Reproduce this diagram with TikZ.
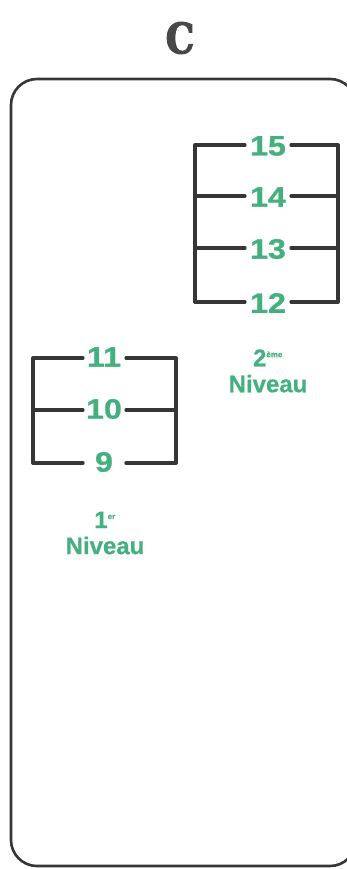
\documentclass[tikz,border=0pt]{standalone}
\usepackage{fontspec}
\newfontfamily\numfont[FakeStretch=1.15,FakeBold=1]{Liberation Sans Bold}
\newfontfamily\labfont[FakeBold=0.6]{Liberation Sans Bold}
\newfontfamily\titlefont[FakeBold=3,FakeStretch=0.85]{DejaVu Serif Bold}
\definecolor{lvlgreen}{HTML}{45B07F}
\definecolor{inkgrey}{HTML}{363636}
\definecolor{titlegrey}{HTML}{484848}
\tikzset{
  num/.style={text=lvlgreen, font=\numfont\fontsize{28}{28}\selectfont, inner sep=0pt, anchor=center},
  lab/.style={text=lvlgreen, font=\labfont\fontsize{24}{26}\selectfont, inner sep=0pt, align=center},
  rung/.style={draw=inkgrey, line width=3.3pt, line cap=round, line join=round},
  frame/.style={draw=inkgrey, line width=2.6pt, rounded corners=26pt}
}
\begin{document}
\begin{tikzpicture}[x=1pt,y=-1pt]
\useasboundingbox (0,0) rectangle (347,869);
% title
\node[text=titlegrey, font=\titlefont\fontsize{42}{42}\selectfont, inner sep=0pt] (title) at (180,38) {C};
% outer frame
\begin{scope}
\clip (0,0) rectangle (347,869);
\draw[frame] (11,79) rectangle (356,866);
\end{scope}
% right ladder (2eme niveau)
\foreach \n/\y in {15/145,14/196,13/248,12/302}{
  \node[num] (n\n) at (268,\y+1) {\n};
  \coordinate (rl\n) at (195,\y);
  \coordinate (rr\n) at (338,\y);
  \coordinate (ga\n) at (245,\y);
  \coordinate (gb\n) at (291,\y);
  \draw[rung] (rl\n) -- (ga\n);
  \draw[rung] (gb\n) -- (rr\n);
}
\draw[rung] (rl15) -- (rl12);
\draw[rung] (rr15) -- (rr12);
% left ladder (1er niveau)
\foreach \n/\y in {11/358,10/410,9/463}{
  \node[num] (n\n) at (104,\y-1) {\n};
  \coordinate (ll\n) at (33,\y);
  \coordinate (lr\n) at (176,\y);
  \coordinate (la\n) at (83,\y);
  \coordinate (lb\n) at (126,\y);
  \draw[rung] (ll\n) -- (la\n);
  \draw[rung] (lb\n) -- (lr\n);
}
\draw[rung] (ll11) -- (ll9);
\draw[rung] (lr11) -- (lr9);
% level labels
\node[lab] (lvl1) at (105,533) {1\textsuperscript{\fontsize{8}{8}\selectfont er}\\Niveau};
\node[lab] (lvl2) at (268,371) {2\textsuperscript{\fontsize{8}{8}\selectfont ème}\\Niveau};
\end{tikzpicture}
\end{document}
